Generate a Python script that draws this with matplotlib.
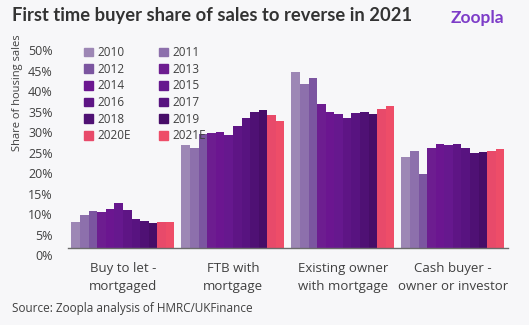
import numpy as np
import matplotlib
matplotlib.use('Agg')
import matplotlib.pyplot as plt
import matplotlib.transforms as mtransforms
from matplotlib.patches import Patch

categories = ['Buy to let -\nmortgaged', 'FTB with\nmortgage',
              'Existing owner\nwith mortgage', 'Cash buyer -\nowner or investor']
years = ['2010', '2011', '2012', '2013', '2014', '2015',
         '2016', '2017', '2018', '2019', '2020E', '2021E']

# share of sales (%) per year, one list per buyer type
buy_to_let = [6.5, 8.1, 9.2, 8.9, 9.6, 11.1, 9.4, 7.3, 6.8, 6.3, 6.5, 6.5]
ftb_mortgage = [25.2, 24.6, 27.9, 28.1, 28.3, 27.8, 29.9, 31.8, 33.3, 33.7, 32.6, 31.0]
owner_mortgage = [43.0, 40.1, 41.7, 35.2, 33.3, 32.7, 31.9, 33.0, 33.2, 32.9, 34.0, 34.7]
cash_buyer = [22.4, 23.7, 18.1, 24.5, 25.6, 25.2, 25.6, 24.5, 23.3, 23.5, 23.7, 24.2]

colors = ['#9d87b5', '#8d70ac', '#7b55a0', '#6d1d90', '#6b1690', '#66188e',
          '#5e1585', '#581380', '#4f1174', '#470d68', '#e84a6a', '#ee4d68']

bg = '#f7f7f9'
txt = '#404040'
plt.rcParams['font.family'] = ['Open Sans', 'DejaVu Sans']

data = np.array([buy_to_let, ftb_mortgage, owner_mortgage, cash_buyer])
x = np.arange(len(categories))
n = len(years)
bw = 0.936 / n

fig = plt.figure(figsize=(5.29, 3.25), dpi=100, facecolor=bg)
ax = fig.add_axes([0.1285, 0.2354, 0.8315, 0.6308], facecolor=bg)

for i, yr in enumerate(years):
    ax.bar(x - 0.468 + bw * (i + 0.5), data[:, i], width=bw, color=colors[i],
           linewidth=0, label=yr)

ax.set_xlim(-0.5, 3.5)
ax.set_ylim(0, 50)
ax.set_yticks(np.arange(0, 51, 5))
ax.set_yticklabels([f'{v}%' for v in range(0, 51, 5)])
ax.set_xticks(x)
ax.set_xticklabels(categories, linespacing=1.5)
ax.tick_params(axis='y', length=0, pad=11, labelsize=9, labelcolor=txt)
ax.tick_params(axis='x', length=0, pad=10, labelsize=9.5, labelcolor=txt)
off = mtransforms.ScaledTranslation(0, -0.07, fig.dpi_scale_trans)
for lab in ax.get_yticklabels():
    lab.set_transform(lab.get_transform() + off)

for s in ['top', 'right', 'left']:
    ax.spines[s].set_visible(False)
ax.spines['bottom'].set_color('#6b6b6b')
ax.spines['bottom'].set_linewidth(1.0)

# legend filled row by row
handles = [Patch(color=colors[i]) for i in range(n)]
order = list(range(0, n, 2)) + list(range(1, n, 2))
leg = ax.legend([handles[i] for i in order], [years[i] for i in order],
                ncol=2, loc='upper left', bbox_to_anchor=(0.025, 1.01),
                frameon=False, fontsize=8.5, handlelength=0.75, handleheight=0.75,
                handletextpad=0.4, columnspacing=2.4, labelspacing=0.31,
                borderaxespad=0)
for t in leg.get_texts():
    t.set_color(txt)

fig.text(0.0227, 0.953, 'First time buyer share of sales to reverse in 2021',
         fontsize=13.2, fontweight='bold', color='#333333', family=['Lato', 'DejaVu Sans'],
         va='center', ha='left')
fig.text(0.953, 0.946, 'Zoopla', fontsize=12.5, fontweight='bold', color='#7d3cc8',
         family=['Lato', 'DejaVu Sans'], va='center', ha='right')
fig.text(0.034, 0.714, 'Share of housing sales', rotation=90, fontsize=8,
         color=txt, va='center', ha='center')
fig.text(0.0227, 0.052, 'Source: Zoopla analysis of HMRC/UKFinance', fontsize=8.5,
         color=txt, va='center', ha='left')

plt.savefig('out.png', dpi=100, facecolor=bg)
